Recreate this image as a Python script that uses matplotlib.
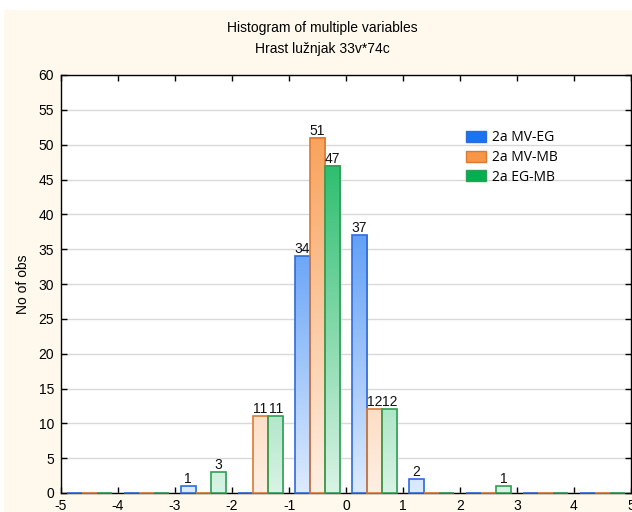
import matplotlib
matplotlib.use("Agg")
import matplotlib.pyplot as plt
import numpy as np
from matplotlib.colors import LinearSegmentedColormap, to_rgb
from matplotlib.patches import Patch, Rectangle

# ---- data ----
bin_centers = [-4.5, -3.5, -2.5, -1.5, -0.5, 0.5, 1.5, 2.5, 3.5, 4.5]
series_names = ["2a MV-EG", "2a MV-MB", "2a EG-MB"]
mv_eg = [0, 0, 1, 0, 34, 37, 2, 0, 0, 0]
mv_mb = [0, 0, 0, 11, 51, 12, 0, 0, 0, 0]
eg_mb = [0, 0, 3, 11, 47, 12, 0, 1, 0, 0]
x_ticks = [-5, -4, -3, -2, -1, 0, 1, 2, 3, 4, 5]
x_tick_labels = ["-5", "-4", "-3", "-2", "-1", "0", "1", "2", "3", "4", "5"]
y_ticks = [0, 5, 10, 15, 20, 25, 30, 35, 40, 45, 50, 55, 60]
title1 = "Histogram of multiple variables"
title2 = "Hrast lužnjak 33v*74c"
y_label = "No of obs"

base_colors = ["#1874F2", "#F79646", "#00B050"]
edge_colors = ["#2F6BDA", "#DC7A34", "#2E9E55"]

W, H = 632, 512
fig = plt.figure(figsize=(W / 100, H / 100), dpi=100, facecolor="white")
fig.patches.append(Rectangle((4 / W, 0), 1 - 4 / W, 1 - 10 / H, transform=fig.transFigure,
                             facecolor="#FEF9EC", edgecolor="none", zorder=-10))

ax_l, ax_r, ax_t, ax_b = 61, 631, 75, 493
ax = fig.add_axes([ax_l / W, 1 - ax_b / H, (ax_r - ax_l) / W, (ax_b - ax_t) / H])
ax.set_facecolor("white")
ax.set_zorder(1)

YMAX = 60
bw = 0.8 / 3
values = [mv_eg, mv_mb, eg_mb]

def blend(c, t):
    r = np.array(to_rgb(c))
    return tuple(r * t + np.ones(3) * (1 - t))

for i, (vals, base, edge, name) in enumerate(zip(values, base_colors, edge_colors, series_names)):
    xs = np.array(bin_centers) + (i - 1) * bw
    cmap = LinearSegmentedColormap.from_list("g%d" % i, [blend(base, 0.15), blend(base, 1.0)])
    for x, v in zip(xs, vals):
        if v > 0:
            grad = np.linspace(0, v / YMAX, 100).reshape(-1, 1)
            ax.imshow(grad, extent=[x - bw / 2, x + bw / 2, 0, v], origin="lower",
                      cmap=cmap, vmin=0, vmax=1, aspect="auto", zorder=2.6, interpolation="bilinear")
    bars = ax.bar(xs, vals, width=bw, facecolor="none", edgecolor=edge, linewidth=1.2,
                  zorder=3, clip_on=False, label=name)
    ax.bar_label(bars, labels=[str(v) if v > 0 else "" for v in vals], padding=0,
                 fontsize=10, family="Liberation Sans", color="#111111")

ax.set_xlim(-5, 5)
ax.set_ylim(0, YMAX)
ax.set_xticks(x_ticks)
ax.set_xticklabels(x_tick_labels)
ax.set_yticks(y_ticks)
ax.tick_params(direction="in", top=True, right=True, length=4, width=1, color="black",
               labelsize=10)
ax.tick_params(axis="x", pad=4)
ax.tick_params(axis="y", pad=5)
for lab in ax.get_xticklabels() + ax.get_yticklabels():
    lab.set_family("Liberation Sans")
for s in ax.spines.values():
    s.set_color("black")
    s.set_linewidth(1.0)

ax.set_axisbelow(True)
ax.yaxis.grid(True, color="#D9D9D9", linewidth=1.0)
ax.set_ylabel(y_label, fontsize=10, family="Liberation Sans", labelpad=6)

fig.text(322 / W, 1 - 28 / H, title1, ha="center", va="center", fontsize=10, family="Liberation Sans")
fig.text(322 / W, 1 - 49 / H, title2, ha="center", va="center", fontsize=10, family="Liberation Sans")

handles = [Patch(facecolor=c, edgecolor=e, linewidth=1.0) for c, e in zip(base_colors, edge_colors)]
leg = ax.legend(handles, series_names, loc="upper left", bbox_to_anchor=(466 / W, 1 - 130 / H),
                bbox_transform=fig.transFigure,
                frameon=False, prop={"family": "Open Sans", "size": 10}, handlelength=1.45,
                handleheight=0.85, handletextpad=0.4, labelspacing=0.35, borderpad=0, borderaxespad=0)
leg.set_zorder(10)

fig.savefig("out.png", dpi=100, facecolor=fig.get_facecolor())
